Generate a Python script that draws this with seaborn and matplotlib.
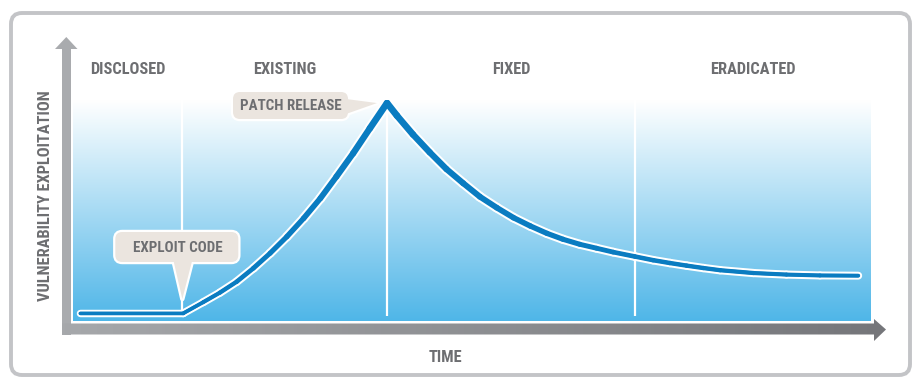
import numpy as np
import matplotlib
matplotlib.use("Agg")
import matplotlib.pyplot as plt
import matplotlib.transforms as mtransforms
from matplotlib import font_manager as fm
from matplotlib.collections import LineCollection
from matplotlib.colors import LinearSegmentedColormap
from matplotlib.patches import FancyBboxPatch, Polygon, Rectangle
import seaborn as sns

# ---------------------------------------------------------------------------
# Vulnerability lifecycle: exploitation level over time
# time in arbitrary units (0-100), exploitation relative to the peak (=100)
time = [0.9, 13.8, 16.3, 18.4, 20.5, 22.6, 24.7, 26.8, 28.9, 31.0, 33.0, 35.1,
        37.2, 39.35, 40.6, 42.6, 44.7, 46.8, 48.9, 51.0, 53.1, 55.2, 57.3,
        59.4, 61.4, 63.5, 65.6, 67.7, 70.4, 72.7, 74.8, 76.9, 79.0, 81.1,
        85.3, 89.4, 93.6, 98.4]
exploitation = [3.5, 3.5, 8.6, 13.0, 18.0, 24.2, 31.1, 38.7, 47.1, 56.3, 66.2,
                76.9, 88.4, 100.0, 94.2, 85.6, 77.4, 69.7, 63.2, 57.0, 52.0,
                47.4, 43.6, 40.2, 37.5, 35.2, 33.4, 31.6, 29.6, 27.9, 26.6,
                25.4, 24.3, 23.3, 22.0, 21.3, 20.9, 20.8]

# Lifecycle phases and their boundaries on the time axis
phases = ["DISCLOSED", "EXISTING", "FIXED", "ERADICATED"]
phase_bounds = [0.0, 13.7, 39.35, 70.4, 100.0]

# Events marked with call-outs
events = ["EXPLOIT CODE", "PATCH RELEASE"]
event_times = [13.7, 39.35]

y_label = "VULNERABILITY EXPLOITATION"
x_label = "TIME"

# ---------------------------------------------------------------------------
GREY_TEXT = "#6d6e71"
LINE_BLUE = "#0a7cc1"
CALLOUT_FILL = "#ebe5df"
FRAME = "#c3c4c7"


def condensed_bold():
    prefs = ["Roboto Condensed", "Liberation Sans Narrow", "Open Sans Condensed",
             "DejaVu Sans"]
    for name in prefs:
        for f in fm.fontManager.ttflist:
            if f.name != name or f.weight not in (700, "bold"):
                continue
            fn = f.fname
            if name == "DejaVu Sans" and "Condensed" not in fn:
                continue
            if "Italic" in fn or "Oblique" in fn:
                continue
            return fn
    return None


FONT_FILE = condensed_bold()


def font(size):
    if FONT_FILE:
        return fm.FontProperties(fname=FONT_FILE, size=size)
    return fm.FontProperties(family="DejaVu Sans", weight="bold",
                             stretch="condensed", size=size)


sns.set_theme(style="white")

W, H = 918, 377
fig = plt.figure(figsize=(W / 100, H / 100), dpi=100)
fig.patch.set_facecolor("white")


def frac(x0, y0, x1, y1):
    return [x0 / W, 1 - y1 / H, (x1 - x0) / W, (y1 - y0) / H]


# background layer in pixel coordinates: frame and axis arrows
bg = fig.add_axes([0, 0, 1, 1], zorder=0)
bg.set_xlim(0, W)
bg.set_ylim(H, 0)
bg.axis("off")

bg.add_patch(FancyBboxPatch((11, 13), 899, 362,
                            boxstyle="round,pad=0,rounding_size=11",
                            fc="white", ec=FRAME, lw=2.8))

# vertical axis arrow
bg.add_patch(Rectangle((62, 48), 9.3, 334.5 - 48, fc="#a9abae", ec="none"))
bg.add_patch(Polygon([(55, 49), (77.5, 49), (66.3, 37)], closed=True,
                     fc="#a9abae", ec="none"))

# horizontal axis arrow with a light-to-dark grey gradient
xarrow = Polygon([(62, 323.5), (874, 323.5), (874, 319), (886, 329.5),
                  (874, 341), (874, 334.5), (62, 334.5)], closed=True,
                 fc="none", ec="none")
bg.add_patch(xarrow)
grey_cmap = LinearSegmentedColormap.from_list("greys_h", ["#a6a8ab", "#75767a"])
gimg = bg.imshow(np.linspace(0, 1, 256)[None, :], extent=[62, 886, 341, 319],
                 cmap=grey_cmap, aspect="auto", zorder=1)
gimg.set_clip_path(xarrow)

bg.text(46, 196, y_label, rotation=90, ha="center", va="center",
        color=GREY_TEXT, fontproperties=font(11.8))
bg.text(445, 358, x_label, ha="center", va="center", color=GREY_TEXT,
        fontproperties=font(11.8))

# ---------------------------------------------------------------------------
# data axes
Y_TOP = 101.4
ax = fig.add_axes(frac(73, 100, 871, 321), zorder=1)
ax.set_xlim(0, 100)
ax.set_ylim(0, Y_TOP)
ax.axis("off")

sky = LinearSegmentedColormap.from_list("sky", ["#4fb6e8", "#ffffff"])
ax.imshow(np.linspace(0, 1, 256)[:, None], extent=[0, 100, 0, Y_TOP],
          origin="lower", aspect="auto", cmap=sky, zorder=0)

ax.vlines(phase_bounds[1:-1], 2.3, Y_TOP, color="white", lw=1.6, zorder=1)

# base curve
sns.lineplot(x=time, y=exploitation, ax=ax, color=LINE_BLUE, lw=2.4,
             sort=False, estimator=None, zorder=4,
             solid_capstyle="round", solid_joinstyle="round")

# tapered stroke: thin at the start, heaviest at the peak, easing off later
pts = np.column_stack([time, exploitation])
segs = np.stack([pts[:-1], pts[1:]], axis=1)
mid_t = (pts[:-1, 0] + pts[1:, 0]) / 2
width_px = np.interp(mid_t, [0, 13.8, 39.35, 46, 70, 100],
                     [3.3, 3.6, 6.8, 6.2, 4.6, 3.8])
width_pt = width_px * 0.72
ax.add_collection(LineCollection(segs, linewidths=width_pt + 2.9,
                                 colors="white", capstyle="round",
                                 joinstyle="round", zorder=2))
ax.add_collection(LineCollection(segs, linewidths=width_pt,
                                 colors=LINE_BLUE, capstyle="round",
                                 joinstyle="round", zorder=3))

label_tf = mtransforms.blended_transform_factory(ax.transData, ax.transAxes)
for name, lo, hi in zip(phases, phase_bounds[:-1], phase_bounds[1:]):
    ax.text((lo + hi) / 2, 1.136, name, transform=label_tf, ha="center",
            va="center", color=GREY_TEXT, fontproperties=font(11.8),
            clip_on=False)

# ---------------------------------------------------------------------------
# call-outs, drawn on a pixel-coordinate overlay
top = fig.add_axes([0, 0, 1, 1], zorder=2)
top.set_xlim(0, W)
top.set_ylim(H, 0)
top.axis("off")

fig.canvas.draw()


def to_px(tx, ty):
    dx, dy = ax.transData.transform((tx, ty))
    return dx, H - dy


def callout(box, tail, text, tx, ty):
    x0, y0, x1, y1 = box
    for lw, ec, z in ((3.2, "white", 5), (0, "none", 6)):
        top.add_patch(Polygon(tail, closed=True, fc=CALLOUT_FILL, ec=ec, lw=lw,
                              joinstyle="round", zorder=z))
        top.add_patch(FancyBboxPatch((x0, y0), x1 - x0, y1 - y0,
                                     boxstyle="round,pad=0,rounding_size=7",
                                     fc=CALLOUT_FILL, ec=ec, lw=lw, zorder=z))
    top.text(tx, ty, text, ha="center", va="center", color=GREY_TEXT,
             fontproperties=font(10.8), zorder=7)


# exploit code: pointer drops onto the curve at the moment code appears
ex, _ = to_px(event_times[0], 0)
callout((ex - 67, 232, ex + 56, 262),
        [(ex - 9, 260), (ex, 299), (ex + 10, 260)],
        events[0], ex - 5, 247.5)

# patch release: pointer reaches toward the peak
px_, py_ = to_px(event_times[1], 100.0)
callout((px_ - 154, 92, px_ - 39, 119),
        [(px_ - 41, 99), (px_ - 10, py_), (px_ - 41, 114)],
        events[1], px_ - 96.5, 105.5)

fig.savefig("out.png", dpi=100, facecolor="white")
